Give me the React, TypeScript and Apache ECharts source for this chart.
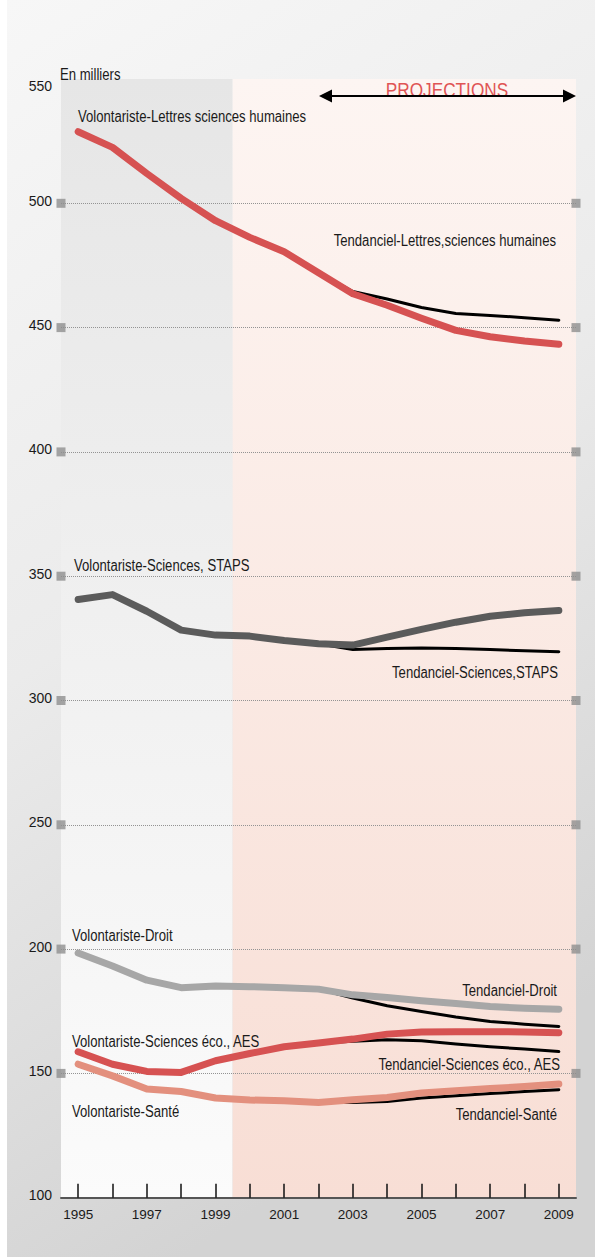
import React, { useEffect, useRef } from 'react';
import * as echarts from 'echarts';

const FONT = "'Liberation Sans', Arial, sans-serif";
const SX = 0.82; // horizontal squeeze to mimic a narrow face

const years = ['1995', '1996', '1997', '1998', '1999', '2000', '2001', '2002', '2003', '2004', '2005', '2006', '2007', '2008', '2009'];
const yTicks = [150, 200, 250, 300, 350, 400, 450, 500];
const N = null;

const volLettres = [528.8, 522.5, 512.0, 502.0, 493.0, 486.3, 480.5, 472.1, 463.6, 459.0, 453.8, 448.9, 446.3, 444.6, 443.3];
const tendLettres = [N, N, N, N, N, N, N, 472.1, 464.5, 461.5, 458.1, 455.7, 454.9, 454.0, 453.0];
const volSciences = [340.6, 342.6, 335.9, 328.3, 326.3, 325.9, 324.1, 322.8, 322.3, 325.5, 328.6, 331.5, 333.9, 335.3, 336.2];
const tendSciences = [N, N, N, N, N, N, N, 322.8, 320.5, 320.9, 321.1, 320.9, 320.5, 320.0, 319.6];
const volDroit = [198.4, 193.2, 187.5, 184.5, 185.2, 184.9, 184.5, 183.9, 181.6, 180.5, 179.2, 178.1, 176.9, 176.2, 175.8];
const tendDroit = [N, N, N, N, N, N, N, 183.9, 180.3, 177.2, 174.9, 172.7, 170.9, 169.8, 168.9];
const volEco = [158.7, 153.7, 150.8, 150.4, 155.1, 158.0, 160.7, 162.2, 163.8, 165.8, 166.7, 166.8, 166.8, 166.7, 166.4];
const tendEco = [N, N, N, N, N, N, N, 162.2, 162.9, 163.5, 163.1, 161.8, 160.7, 159.8, 158.8];
const volSante = [153.7, 149.0, 143.7, 142.7, 140.1, 139.3, 139.0, 138.3, 139.4, 140.3, 142.1, 143.0, 143.9, 144.7, 145.7];
const tendSante = [N, N, N, N, N, N, N, 138.3, 138.3, 138.7, 140.1, 141.0, 141.9, 142.7, 143.4];

const volSeries = [
  { name: 'Volontariste-Lettres sciences humaines', data: volLettres, color: '#d65252' },
  { name: 'Volontariste-Sciences, STAPS', data: volSciences, color: '#5b5b5b' },
  { name: 'Volontariste-Droit', data: volDroit, color: '#a7a7a7' },
  { name: 'Volontariste-Sciences éco., AES', data: volEco, color: '#d65252' },
  { name: 'Volontariste-Santé', data: volSante, color: '#e3907e' },
];
const tendSeries = [
  { name: 'Tendanciel-Lettres,sciences humaines', data: tendLettres },
  { name: 'Tendanciel-Sciences,STAPS', data: tendSciences },
  { name: 'Tendanciel-Droit', data: tendDroit },
  { name: 'Tendanciel-Sciences éco., AES', data: tendEco },
  { name: 'Tendanciel-Santé', data: tendSante },
];

// label placements (text layout only)
const leftLabels = [
  { text: 'Volontariste-Lettres sciences humaines', x: 78, y: 117 },
  { text: 'Volontariste-Sciences, STAPS', x: 74, y: 566 },
  { text: 'Volontariste-Droit', x: 72, y: 936 },
  { text: 'Volontariste-Sciences éco., AES', x: 72, y: 1042 },
  { text: 'Volontariste-Santé', x: 72, y: 1112 },
];
const rightLabels = [
  { text: 'Tendanciel-Lettres,sciences humaines', x: 556, y: 241 },
  { text: 'Tendanciel-Sciences,STAPS', x: 558, y: 673 },
  { text: 'Tendanciel-Droit', x: 557, y: 991 },
  { text: 'Tendanciel-Sciences éco., AES', x: 560, y: 1065 },
  { text: 'Tendanciel-Santé', x: 557, y: 1115 },
];

export default function App() {
  const ref = useRef<HTMLDivElement>(null);
  useEffect(() => {
    const chart = echarts.init(ref.current!, null, { renderer: 'svg' });
    const vgrad = (a: string, b: string) =>
      new echarts.graphic.LinearGradient(0, 0, 0, 1, [
        { offset: 0, color: a },
        { offset: 1, color: b },
      ]);

    const squares: any[] = [];
    yTicks.forEach((v) => {
      squares.push([0, v]);
      squares.push([1, v]);
    });

    const txt = (text: string, x: number, y: number, align: string, size = 16, fill = '#1a1a1a') => ({
      type: 'text',
      x,
      y,
      scaleX: SX,
      style: { text, font: `${size}px ${FONT}`, fill, verticalAlign: 'middle', align },
      z: 50,
    });

    const graphics: any[] = [
      { type: 'rect', shape: { x: 0, y: 0, width: 595, height: 1257 }, style: { fill: '#ffffff' }, z: -20 },
      {
        type: 'rect',
        shape: { x: 7, y: 0, width: 588, height: 1257 },
        style: { fill: new echarts.graphic.LinearGradient(0, 0, 0.3, 1, [
          { offset: 0, color: '#f7f7f7' },
          { offset: 0.5, color: '#ebebeb' },
          { offset: 1, color: '#d3d3d3' },
        ]) },
        z: -19,
      },
      txt('En milliers', 60, 75, 'left'),
      txt('PROJECTIONS', 447, 90, 'center', 21, '#e05454'),
      { type: 'line', shape: { x1: 326, y1: 96, x2: 570, y2: 96 }, style: { stroke: '#000', lineWidth: 2 }, z: 51 },
      { type: 'polygon', shape: { points: [[319, 96], [332, 89.5], [332, 102.5]] }, style: { fill: '#000' }, z: 51 },
      { type: 'polygon', shape: { points: [[576, 96], [563, 89.5], [563, 102.5]] }, style: { fill: '#000' }, z: 51 },
    ];
    leftLabels.forEach((l) => graphics.push(txt(l.text, l.x, l.y, 'left')));
    rightLabels.forEach((l) => graphics.push(txt(l.text, l.x, l.y, 'right')));

    const series: any[] = [
      {
        type: 'line',
        xAxisIndex: 1,
        yAxisIndex: 0,
        data: [],
        z: 0,
        silent: true,
        markArea: {
          silent: true,
          z: 0,
          data: [
            [{ xAxis: 0, itemStyle: { color: vgrad('#e6e6e6', '#fbfbfb') } }, { xAxis: 1 / 3 }],
            [{ xAxis: 1 / 3, itemStyle: { color: vgrad('#fdf5f2', '#f8ded5') } }, { xAxis: 1 }],
          ],
        },
      },
      {
        type: 'scatter',
        xAxisIndex: 1,
        yAxisIndex: 0,
        data: squares,
        symbol: 'rect',
        symbolSize: 9,
        itemStyle: { color: '#8e8e8e' },
        z: 6,
        silent: true,
      },
    ];
    tendSeries.forEach((s) =>
      series.push({
        type: 'line',
        name: s.name,
        data: s.data,
        symbol: 'none',
        connectNulls: false,
        lineStyle: { color: '#000', width: 3, cap: 'round', join: 'round' },
        z: 3,
      })
    );
    volSeries.forEach((s) =>
      series.push({
        type: 'line',
        name: s.name,
        data: s.data,
        symbol: 'none',
        lineStyle: { color: s.color, width: 7, cap: 'round', join: 'round' },
        z: 4,
      })
    );

    chart.setOption({
      animation: false,
      grid: { left: 61, right: 19, top: 79, bottom: 59.3, containLabel: false },
      xAxis: [
        {
          type: 'category',
          data: years,
          boundaryGap: true,
          axisLine: { show: true, lineStyle: { color: '#555', width: 2 } },
          axisTick: { show: true, inside: true, alignWithLabel: true, interval: 0, length: 14, lineStyle: { color: '#111', width: 1.5 } },
          axisLabel: { interval: 1, margin: 10, fontSize: 13.5, fontFamily: FONT, color: '#1a1a1a' },
          splitLine: { show: false },
          z: 10,
        },
        { type: 'value', min: 0, max: 1, show: false },
      ],
      yAxis: {
        type: 'value',
        min: 100,
        max: 550,
        interval: 50,
        z: 1,
        axisLine: { show: false },
        axisTick: { show: false },
        splitLine: { show: true, showMinLine: false, showMaxLine: false, lineStyle: { color: '#939393', type: [1, 1], width: 1 } },
        axisLabel: {
          margin: 9,
          formatter: (v: number) => (v === 550 ? `{low|${v}}` : `{n|${v}}`),
          rich: {
            low: { fontSize: 14, fontFamily: FONT, color: '#1a1a1a', padding: [14, 0, 0, 0] },
            n: { fontSize: 14, fontFamily: FONT, color: '#1a1a1a', padding: [0, 0, 5, 0] },
          },
        },
      },
      graphic: graphics,
      series,
    });
    return () => chart.dispose();
  }, []);
  return <div ref={ref} style={{ position: 'absolute', left: 0, top: 0, width: 595, height: 1257 }} />;
}
